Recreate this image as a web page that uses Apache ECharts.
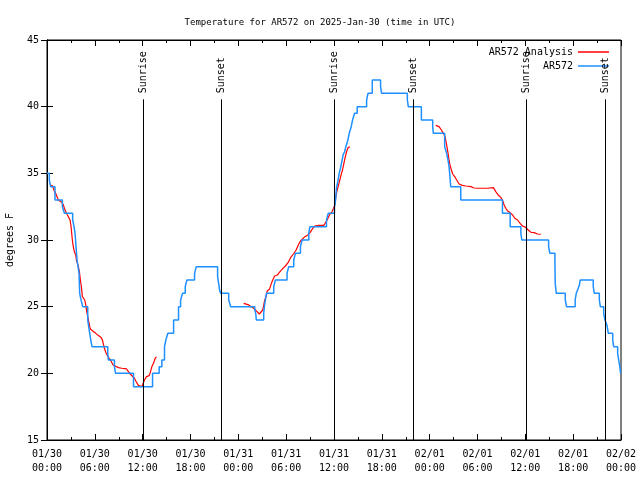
<!DOCTYPE html>
<html>
<head>
<meta charset="utf-8">
<script src="https://cdn.jsdelivr.net/npm/echarts@6/dist/echarts.min.js"></script>
<style>html,body{margin:0;padding:0;background:#fff;}#c{width:640px;height:480px;}</style>
</head>
<body>
<div id="c"></div>
<script>
// Hours since 2025-01-30 00:00 UTC
const tickLabels = ['01/30\n00:00','01/30\n06:00','01/30\n12:00','01/30\n18:00','01/31\n00:00','01/31\n06:00','01/31\n12:00','01/31\n18:00','02/01\n00:00','02/01\n06:00','02/01\n12:00','02/01\n18:00','02/02\n00:00'];

const obsTime = [0,0.29,0.46,1.0,1.93,2.18,3.22,3.39,3.52,3.64,3.77,3.89,4.02,4.10,4.23,4.36,4.48,5.11,5.23,5.36,5.49,5.65,7.62,7.70,8.46,8.59,10.85,13.24,14.07,14.41,14.74,14.91,15.16,15.88,16.5,16.76,17.0,17.34,17.55,18.51,18.72,21.40,21.53,21.65,21.78,22.79,23.04,26.06,26.18,26.26,27.18,27.27,27.39,27.52,28.44,28.65,30.11,30.32,30.95,31.16,31.79,32.0,32.84,32.97,35.06,35.27,36.06,36.15,36.23,36.31,36.48,36.65,36.82,36.99,37.15,37.32,37.49,37.74,37.91,38.16,38.33,38.58,38.91,40.09,40.26,40.8,41.84,41.97,45.2,45.32,46.96,48.38,48.46,49.88,50.13,50.30,50.43,50.51,50.64,51.9,57.13,58.10,59.44,59.56,62.92,63.08,63.71,63.75,63.88,65.01,65.17,66.25,66.39,66.55,66.77,66.89,68.52,68.65,69.28,69.41,69.83,69.99,70.24,70.41,70.96,71.08,71.58,71.71,71.85,71.95,72];
const obsTemp = [35,34.5,34,33,32.5,32,31.5,31,30.5,29.5,28.5,28,27.5,26,25.6,25.5,25,24,23.5,23,22.5,22,21.5,21,20.5,20,19,20,20.5,21,22,22.5,23,24,25,25.5,26,26.5,27,27.5,28,27.25,26.75,26.25,26,25.5,25,24.75,24.5,24,24.5,25,25.5,26,26.5,27,27.5,28,28.5,29,29.5,30,30.5,31,31.5,32,32.5,32.75,33.25,33.9,34.4,35,35.4,35.9,36.4,36.6,37,37.5,38,38.5,39,39.5,40,40.5,41,42,41.5,41,40.5,40,39,38.5,38,37,36.5,36,35.5,35,34,33,32,31,30.5,30,29.5,29,28.25,26.75,26,25.5,25,25.5,26,26.25,26.6,27,26.5,26,25.5,25,24.5,24,23.6,23,22.5,22,21.5,21,20.5,20,20];

const anaTime1 = [0.38,0.67,0.92,1.09,1.26,1.42,1.59,1.84,2.05,2.18,2.35,2.51,2.68,2.89,3.02,3.10,3.18,3.27,3.43,3.60,3.69,3.77,3.94,4.06,4.19,4.31,4.44,4.61,4.73,4.86,4.98,5.11,5.24,5.36,5.45,5.61,5.82,6.12,6.45,6.79,6.95,7.08,7.20,7.37,7.54,7.71,7.96,8.13,8.29,8.54,8.96,9.38,9.97,10.22,10.47,10.72,10.97,11.14,11.31,11.48,11.69,11.90,12.06,12.23,12.48,12.82,12.99,13.15,13.36,13.57,13.74];
const anaTemp1 = [34.1,34.08,33.68,33.5,33.25,33.0,32.88,32.83,32.63,32.38,32.13,31.93,31.75,31.5,31.0,30.5,30.0,29.6,29.13,28.88,28.5,28.38,28.0,27.63,27.0,26.5,25.75,25.63,25.5,25.13,24.63,24.25,23.88,23.5,23.33,23.18,23.13,23.0,22.83,22.68,22.5,22.18,21.88,21.58,21.38,21.18,21.0,20.88,20.63,20.5,20.43,20.38,20.33,20.13,19.93,19.83,19.63,19.43,19.25,19.08,19.0,19.0,19.25,19.5,19.75,19.83,20.13,20.5,20.75,21.13,21.23];
const anaTime2 = [24.67,25.30,25.93,26.35,26.64,26.89,27.06,27.31,27.48,27.64,27.90,28.15,28.32,28.56,28.90,29.23,29.57,29.90,30.24,30.58,30.91,31.25,31.58,31.83,32.25,32.67,33.0,33.34,33.59,34.1,34.72,35.14,35.43,35.77,36.1,36.23,36.4,36.56,36.73,36.9,37.07,37.24,37.4,37.57,37.74,37.99];
const anaTemp2 = [25.25,25.13,24.88,24.63,24.45,24.45,24.75,25.5,25.75,26.2,26.3,26.75,27.0,27.3,27.38,27.63,27.85,28.05,28.3,28.7,28.95,29.25,29.7,29.95,30.2,30.35,30.55,30.88,31.05,31.1,31.1,31.5,31.88,32.13,32.6,33.25,33.75,34.1,34.5,34.9,35.25,35.75,36.2,36.6,36.9,37.0];
const anaTime3 = [48.76,49.18,49.47,49.72,49.93,50.14,50.31,50.43,50.56,50.73,50.89,51.14,51.39,51.69,52.11,52.53,53.16,53.57,53.99,55.25,55.46,56.0,56.29,56.59,56.92,57.13,57.34,57.55,57.76,58.1,58.39,58.68,59.02,59.35,59.64,60.06,60.36,60.69,61.11,61.53,61.95];
const anaTemp3 = [38.6,38.5,38.25,38.0,37.75,37.1,36.5,36.0,35.6,35.25,34.95,34.75,34.5,34.2,34.1,34.05,34.0,33.9,33.88,33.88,33.93,33.93,33.63,33.38,33.2,33.0,32.63,32.38,32.2,32.05,31.88,31.63,31.5,31.25,31.05,30.95,30.75,30.58,30.55,30.45,30.43];

const sunTimes = [11.98, 21.78, 36.05, 45.88, 60.08, 69.98];
const sunLabels = ['Sunrise','Sunset','Sunrise','Sunset','Sunrise','Sunset'];
const sunLineTop = 40.55;

const yTicks = [15,20,25,30,35,40,45];

const MONO = '"DejaVu Sans Mono", "Liberation Mono", monospace';

function pairs(t, v) { return t.map((x, i) => [x, v[i]]); }
const anaData = [].concat(pairs(anaTime1, anaTemp1), [[19, null]], pairs(anaTime2, anaTemp2), [[43, null]], pairs(anaTime3, anaTemp3));
const obsData = pairs(obsTime, obsTemp);

const chart = echarts.init(document.getElementById('c'), null, {renderer: 'canvas'});

const baseX = {
  type: 'value', min: 0, max: 72, interval: 6,
  splitLine: {show: false},
  axisLine: {show: true, lineStyle: {color: '#000', width: 1}},
  axisTick: {show: true, inside: true, length: 6, lineStyle: {color: '#000'}},
  minorTick: {show: true, splitNumber: 2, length: 3, lineStyle: {color: '#000'}},
  minorSplitLine: {show: false}
};
const baseY = {
  type: 'value', min: 15, max: 45, interval: 5,
  splitLine: {show: false},
  axisLine: {show: true, lineStyle: {color: '#000', width: 1}},
  axisTick: {show: true, inside: true, length: 6, lineStyle: {color: '#000'}}
};

const legendCommon = {orient: 'vertical', align: 'right', icon: 'rect', itemWidth: 31, itemHeight: 1.5, itemGap: 4,
  textStyle: {fontFamily: MONO, fontSize: 10, color: '#000', padding: [0, 0, 0, 0]}};

chart.setOption({
  animation: false,
  backgroundColor: '#fff',
  title: {
    text: 'Temperature for AR572 on 2025-Jan-30 (time in UTC)',
    left: 'center', top: 13,
    textStyle: {fontFamily: MONO, fontSize: 9, fontWeight: 'normal', color: '#000'}
  },
  grid: {left: 47, right: 19, top: 40, bottom: 40, show: true, borderColor: '#000', borderWidth: 1, containLabel: false, outerBoundsMode: 'none'},
  legend: [
    Object.assign({data: ['AR572 Analysis'], right: 26, top: 42}, legendCommon),
    Object.assign({data: ['AR572'], right: 26, top: 56}, legendCommon)
  ],
  xAxis: [
    Object.assign({}, baseX, {position: 'bottom',
      axisLabel: {show: true, color: '#000', fontFamily: MONO, fontSize: 10, lineHeight: 14, margin: 7,
        formatter: v => tickLabels[Math.round(v / 6)]}}),
    Object.assign({}, baseX, {position: 'top', axisLabel: {show: false}})
  ],
  yAxis: [
    Object.assign({}, baseY, {position: 'left', name: 'degrees F', nameLocation: 'middle', nameGap: 32, nameRotate: 90,
      nameTextStyle: {fontFamily: MONO, fontSize: 10, color: '#000'},
      axisLabel: {show: true, color: '#000', fontFamily: MONO, fontSize: 10, margin: 8,
        formatter: v => yTicks.indexOf(v) >= 0 ? String(v) : ''}}),
    Object.assign({}, baseY, {position: 'right', axisLabel: {show: false}})
  ],
  series: [
    {
      name: 'AR572 Analysis', type: 'line', data: anaData, xAxisIndex: 0, yAxisIndex: 0,
      showSymbol: false, symbol: 'none', connectNulls: false,
      lineStyle: {color: '#ff0000', width: 1.2}, itemStyle: {color: '#ff0000'}, z: 3
    },
    {
      name: 'AR572', type: 'line', data: obsData, step: 'end', xAxisIndex: 0, yAxisIndex: 0,
      showSymbol: false, symbol: 'none',
      lineStyle: {color: '#1e90ff', width: 1.5}, itemStyle: {color: '#1e90ff'}, z: 4
    },
    {
      name: 'sun', type: 'custom', xAxisIndex: 0, yAxisIndex: 0, z: 5,
      data: sunTimes.map((t, i) => [t, sunLineTop, i]),
      encode: {x: 0, y: 1},
      renderItem: function (params, api) {
        const t = api.value(0);
        const p0 = api.coord([t, 15]);
        const p1 = api.coord([t, sunLineTop]);
        const x = Math.round(p0[0]) + 0.5;
        return {
          type: 'group',
          children: [
            {type: 'line', shape: {x1: x, y1: p0[1], x2: x, y2: p1[1]}, style: {stroke: '#000', lineWidth: 1}},
            {type: 'text', x: x, y: p1[1] - 6, rotation: Math.PI / 2,
             style: {text: sunLabels[api.value(2)], font: '10px ' + MONO, fill: '#000', align: 'left', verticalAlign: 'middle'}}
          ]
        };
      }
    }
  ]
});
</script>
</body>
</html>
